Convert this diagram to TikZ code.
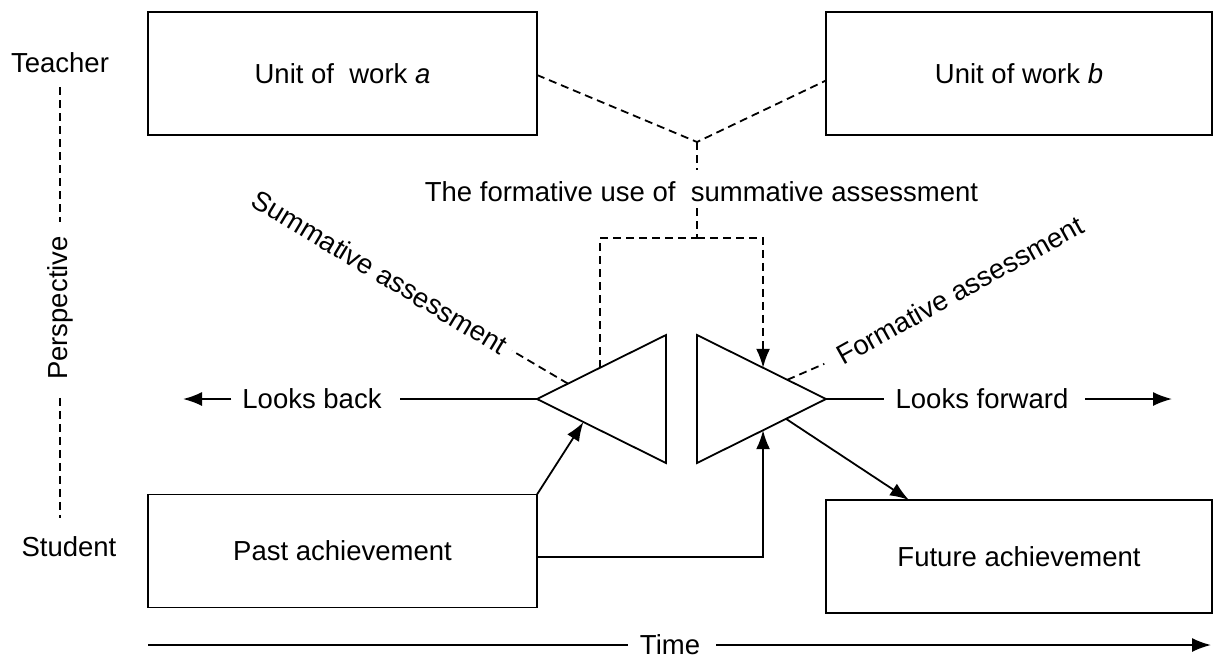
\documentclass[tikz,border=0pt]{standalone}
\usepackage{fontspec}
\setmainfont{Liberation Sans}
\usetikzlibrary{arrows.meta,calc}
\begin{document}
\begin{tikzpicture}[x=1pt,y=-1pt,
  every node/.style={font=\fontsize{27.5pt}{33pt}\selectfont, inner sep=0pt, outer sep=0pt},
  box/.style={draw, line width=1.8pt, rectangle},
  ln/.style={line width=1.8pt},
  dsh/.style={line width=1.8pt, dash pattern=on 8pt off 5pt},
  arr/.style={-{Latex[length=19pt,width=14pt]}},
]
\useasboundingbox (0,0) rectangle (1214,659);

% boxes
\node[box, minimum width=389pt, minimum height=123pt] (ua) at (342.5,73.5) {Unit of\ \ work \textit{a}};
\node[box, minimum width=386pt, minimum height=123pt] (ub) at (1019,73.5) {Unit of work \textit{b}};
\node[box, minimum width=389pt, minimum height=113pt] (past) at (342.5,551) {Past achievement};
\node[box, minimum width=386pt, minimum height=113pt] (future) at (1019,556.5) {Future achievement};

% perspective axis
\node (teacher) at (60,63) {Teacher};
\node (student) at (69,547) {Student};
\node[rotate=90] (persp) at (60,308) {Perspective};
\draw[dsh, shorten <=14pt, shorten >=14pt] (teacher.south) -- (persp.east);
\draw[dsh, shorten <=18pt, shorten >=19pt] (persp.west) -- (persp.west |- student.north);

% triangles
\coordinate (la) at (537,399);
\coordinate (lt) at (666,335);
\coordinate (lb) at (666,463);
\coordinate (rt) at (697,335);
\coordinate (rb) at (697,463);
\coordinate (ra) at (826,399);
\draw[ln] (la) -- (lt) -- (lb) -- cycle;
\draw[ln] (rt) -- (ra) -- (rb) -- cycle;

% formative use of summative assessment
\coordinate (J) at (697,142);
\coordinate (K) at (697,238);
\node (fu) at (701.5,192) {The formative use of\ \ summative assessment};
\draw[dsh] ([yshift=-1.5pt]ua.east) -- (J) -- ([yshift=-7pt]ub.west);
\draw[dsh, shorten >=12pt] (J) -- (J |- fu.north);
\draw[dsh, shorten <=6pt] (fu.south -| J) -- (K);
\coordinate (lsa) at ($(la)!0.488!(lt)$);
\coordinate (rsa) at ($(rt)!0.512!(ra)$);
\draw[dsh] (lsa) |- (K);
\draw[dsh, arr] (K) -| (rsa);

% summative / formative assessment
\node[rotate=-31] (sa) at (380,272) {Summative assessment};
\draw[dsh] ($(la)!0.24!(lt)$) -- ++(-56,-33);
\node[rotate=29] (fa) at (960,290) {Formative assessment};
\draw[dsh] ($(rt)!0.7!(ra)$) -- ++(37,-16);

% looks back / forward
\node (lback) at (312,399) {Looks back};
\coordinate (lbend) at (183,399);
\draw[ln, shorten >=18pt] (la) -- (lback.east);
\draw[ln, arr, shorten <=11pt] (lback.west) -- (lbend);
\node (lfwd) at (982,399) {Looks forward};
\coordinate (lfend) at (1172,399);
\draw[ln, shorten >=12pt] (ra) -- (lfwd.west);
\draw[ln, arr, shorten <=17pt] (lfwd.east) -- (lfend);

% achievement arrows
\draw[ln, arr] (past.north east) -- ($(la)!0.36!(lb)$);
\draw[ln, arr] ([yshift=-6pt]past.east) -| ($(rb)!0.512!(ra)$);
\draw[ln, arr] ($(rb)!0.69!(ra)$) -- ($(future.north west)!0.215!(future.north east)$);

% time
\node (time) at (670,645) {Time};
\coordinate (t0) at (148,645);
\coordinate (t1) at (1211,645);
\draw[ln, shorten >=12pt] (t0) -- (time.west);
\draw[ln, arr, shorten <=16pt] (time.east) -- (t1);
\end{tikzpicture}
\end{document}
